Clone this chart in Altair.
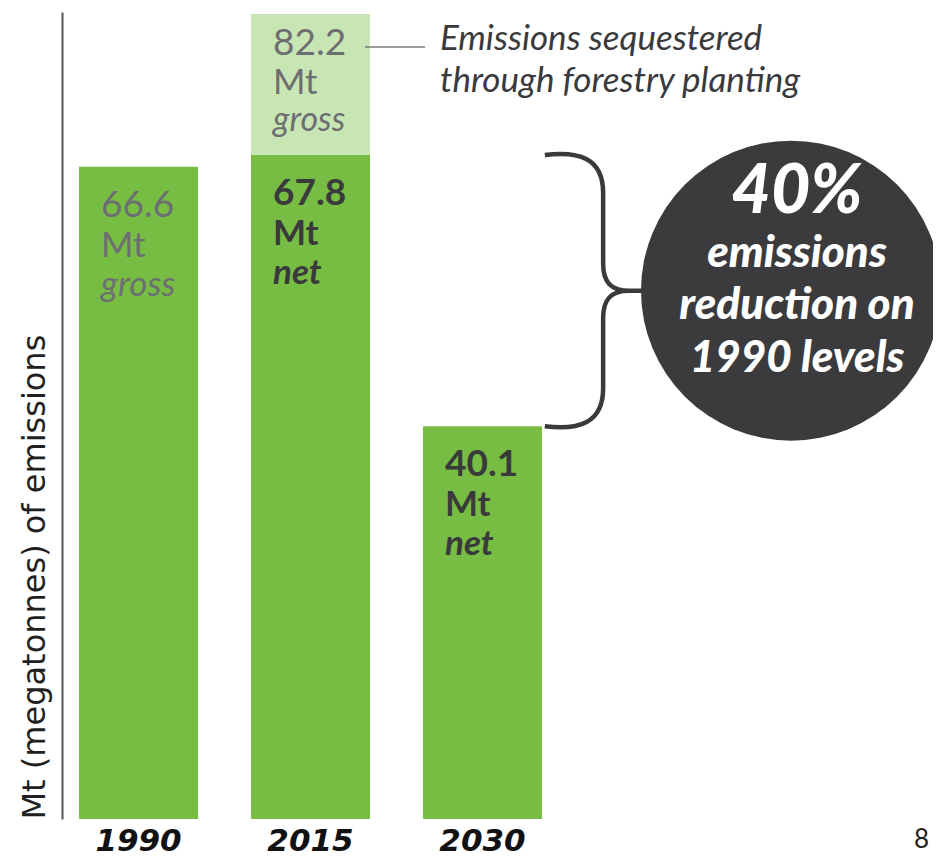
import altair as alt
import pandas as pd

# ---------------- data ----------------
years = ["1990", "2015", "2030"]
bar_values = [66.6, 67.8, 40.1]          # main (dark green) bars
bar_kinds = ["gross", "net", "net"]
sequestered_year = "2015"
sequestered_top = 82.2                   # 2015 gross incl. forestry
sequestered_kind = "gross"
unit_label = "Mt"
axis_title = "Mt (megatonnes) of emissions"
annotation_lines = ["Emissions sequestered", "through forestry planting"]
circle_lines = ["40%", "emissions", "reduction on", "1990 levels"]
page_number = "8"

# ---------------- styles ----------------
GREEN = "#77bc43"
LIGHT_GREEN = "#c8e6b4"
GRAY_TEXT = "#6d6e71"
DARK_TEXT = "#3a3a3c"
CHARCOAL = "#3b3b3d"
FONT = "Lato"
WIDE = "DejaVu Sans"

PLOT_W, PLOT_H = 497, 807
Y_MAX = 82.4

bars = pd.DataFrame({
    "year": years + [sequestered_year],
    "start": [0.0, 0.0, 0.0, bar_values[1]],
    "end": bar_values + [sequestered_top],
    "layer": ["main", "main", "main", "sequestered"],
    "kind": bar_kinds + [sequestered_kind],
})
bars["label"] = bars["end"].map(lambda v: f"{v:.1f}")

x_scale = alt.Scale(paddingInner=0.308, paddingOuter=0.099)
y_scale = alt.Scale(domain=[0, Y_MAX], nice=False, zero=True)

x_enc = alt.X("year:N", sort=years, scale=x_scale,
              axis=alt.Axis(title=None, labelAngle=0, domain=False, ticks=False,
                            labelFont=WIDE, labelFontSize=31, labelFontWeight="bold",
                            labelFontStyle="italic", labelColor="#111111",
                            labelPadding=7))

base = alt.Chart(bars)

bar_layer = base.mark_bar().encode(
    x=x_enc,
    y=alt.Y("start:Q", scale=y_scale,
            axis=alt.Axis(title=axis_title, labels=False, ticks=False, grid=False,
                          domain=True, domainColor="#555555", domainWidth=2,
                          titleAnchor="start", titleFont=WIDE, titleFontSize=32,
                          titleFontWeight="normal", titleColor="#231f20",
                          titlePadding=11)),
    y2="end:Q",
    color=alt.Color("layer:N", scale=alt.Scale(domain=["main", "sequestered"],
                                               range=[GREEN, LIGHT_GREEN]),
                    legend=None),
)


def label_layers(layer, kind, weight, color, dys, desc_size=35):
    sub = base.transform_filter((alt.datum.kind == kind) & (alt.datum.layer == layer))
    common = dict(align="left", baseline="alphabetic", dx=-37.5, font=FONT, color=color,
                  fontWeight=weight)
    xe = alt.X("year:N", sort=years, scale=x_scale)
    ye = alt.Y("end:Q", scale=y_scale)
    num = sub.mark_text(dy=dys[0], fontSize=37, **common).encode(
        x=xe, y=ye, text="label:N")
    mt = sub.mark_text(dy=dys[1], fontSize=35, **common).encode(
        x=xe, y=ye, text=alt.value(unit_label))
    desc = sub.mark_text(dy=dys[2], fontSize=desc_size, fontStyle="italic", **common).encode(
        x=xe, y=ye, text="kind:N")
    return [num, mt, desc]


labels = (label_layers("main", "gross", "normal", GRAY_TEXT, [50, 90, 129])
          + label_layers("main", "net", "bold", DARK_TEXT, [50, 90, 129])
          + label_layers("sequestered", "gross", "normal", GRAY_TEXT, [41, 80, 117], 34))

# connector + annotation for sequestered emissions
seq = base.transform_filter(alt.datum.layer == "sequestered")
connector = seq.mark_rule(color="#7a7a7a", strokeWidth=1.5, yOffset=33).encode(
    x=alt.value(303), x2=alt.value(363), y=alt.Y("end:Q", scale=y_scale))
ann = []
for line, dy in zip(annotation_lines, [36, 78]):
    ann.append(seq.mark_text(align="left", baseline="alphabetic", dy=dy, font=FONT,
                             fontSize=35, fontStyle="italic", color=DARK_TEXT).encode(
        x=alt.value(378), y=alt.Y("end:Q", scale=y_scale), text=alt.value(line)))

# brace + circle between 2015 net and 2030 net
brace_df = pd.DataFrame({"top": [bar_values[1]], "bottom": [bar_values[2]]})
span_px = (bar_values[1] - bar_values[2]) * PLOT_H / Y_MAX
brace_path = ("M -0.37 -1 C -0.12 -1.03 0.06 -0.98 0.06 -0.72 L 0.06 -0.2 "
              "C 0.06 -0.06 0.12 0 0.25 0 L 0.42 0 M 0.25 0 "
              "C 0.12 0 0.06 0.06 0.06 0.2 L 0.06 0.72 "
              "C 0.06 0.98 -0.12 1.03 -0.37 1")
bbase = alt.Chart(brace_df).transform_calculate(mid="(datum.top + datum.bottom) / 2")
brace = bbase.mark_point(shape=brace_path, filled=False, size=span_px ** 2,
                         stroke=DARK_TEXT, strokeWidth=4.5, opacity=1).encode(
    x=alt.value(533), y=alt.Y("mid:Q", scale=y_scale))
circle = bbase.mark_point(shape="circle", filled=True, size=300 ** 2,
                          color=CHARCOAL, opacity=1).encode(
    x=alt.value(729), y=alt.Y("mid:Q", scale=y_scale))

circle_texts = []
for line, dy, fs in zip(circle_lines, [-78, -24, 28, 81], [68, 44, 44, 44]):
    circle_texts.append(
        bbase.mark_text(align="center", baseline="alphabetic", dy=dy, font=FONT,
                        fontSize=fs, fontWeight=900, fontStyle="italic",
                        color="white").encode(
            x=alt.value(735), y=alt.Y("mid:Q", scale=y_scale), text=alt.value(line)))

page_num = bbase.mark_text(align="left", baseline="alphabetic", font=FONT,
                           fontSize=26, color="#231f20").encode(
    x=alt.value(852), y=alt.value(836), text=alt.value(page_number))

chart = alt.layer(
    bar_layer, *labels, connector, *ann,
    brace, circle, *circle_texts, page_num,
).properties(
    width=PLOT_W, height=PLOT_H,
    autosize=alt.AutoSizeParams(type="none"),
    padding={"left": 54, "top": 4, "right": 374, "bottom": 42},
).configure_view(stroke=None)

chart.save("out.html", embed_options={"renderer": "svg", "actions": False})
